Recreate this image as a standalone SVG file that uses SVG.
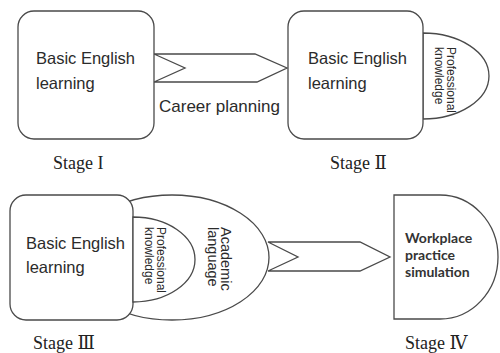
<svg xmlns="http://www.w3.org/2000/svg" width="500" height="353" viewBox="0 0 500 353">
<style>
.s{fill:#fff;stroke:#4a4a4a;stroke-width:1.3}
.l{fill:none;stroke:#4a4a4a;stroke-width:1.3;stroke-linejoin:miter}
.t{font-family:"Liberation Sans",Arial,sans-serif;fill:#2b2b2b}
.b{font-size:16.5px}
.v{font-size:12px}
.a{font-size:14.5px}
.st{font-family:"Liberation Serif","DejaVu Serif","Noto Sans CJK SC",serif;font-size:18px;fill:#222}
.w{font-family:Lato,"Open Sans","Liberation Sans",sans-serif;font-size:14px;font-weight:700;fill:#333}
</style>
<rect width="500" height="353" fill="#fff"/>
<g id="connectors">
<path class="l" d="M154,54 H255 L287,68 L257,82 H154 L185,68 Z"/>
<path class="l" d="M268,242 H360 L390,257 L360,271 H268 L298,257 Z"/>
</g>
<g id="stage1">
<rect class="s" x="18" y="11" width="136" height="128" rx="16"/>
<text class="t b" x="36" y="64">Basic English</text>
<text class="t b" x="36" y="89">learning</text>
<text class="st" x="53" y="169">Stage I</text>
</g>
<g id="career">
<text class="t" x="159" y="112" font-size="17">Career planning</text>
</g>
<g id="stage2">
<path class="s" d="M423,33 A66,43 0 0 1 423,119 Z"/>
<rect class="s" x="288" y="11" width="135" height="128" rx="16"/>
<text class="t b" x="308" y="64">Basic English</text>
<text class="t b" x="308" y="89">learning</text>
<text class="t v" transform="translate(447,47) rotate(90)">Professional</text>
<text class="t v" transform="translate(435,47) rotate(90)">knowledge</text>
<text class="st" x="330" y="169">Stage Ⅱ</text>
</g>
<g id="stage3">
<ellipse class="s" cx="172" cy="257.5" rx="97" ry="62.5"/>
<rect class="s" x="10" y="195" width="123" height="125" rx="16"/>
<path class="s" d="M133,217 A62,42.5 0 0 1 133,302 Z"/>
<text class="t b" x="26" y="249">Basic English</text>
<text class="t b" x="26" y="273">learning</text>
<text class="t v" transform="translate(157,227) rotate(90)">Professional</text>
<text class="t v" transform="translate(145,227) rotate(90)">knowledge</text>
<text class="t a" transform="translate(221,227) rotate(90)">Academic</text>
<text class="t a" transform="translate(208,227) rotate(90)">language</text>
<text class="st" x="33" y="349">Stage Ⅲ</text>
</g>
<g id="stage4">
<path class="s" d="M394,195 H440 A58,62 0 0 1 440,319 H394 Z"/>
<text class="w" x="405" y="243">Workplace</text>
<text class="w" x="405" y="260">practice</text>
<text class="w" x="405" y="277">simulation</text>
<text class="st" x="405" y="349">Stage Ⅳ</text>
</g>
</svg>
